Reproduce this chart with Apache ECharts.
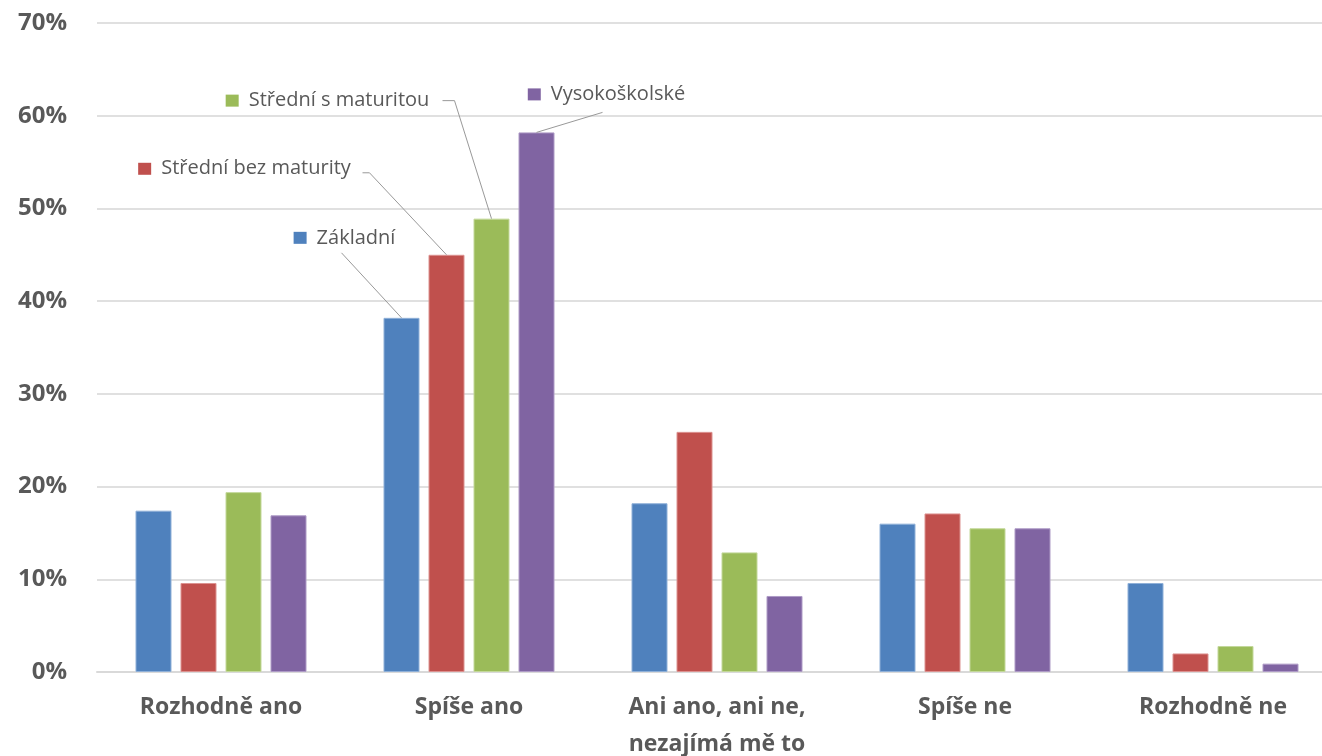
<!DOCTYPE html>
<html>
<head>
<meta charset="utf-8">
<style>
  html, body { margin: 0; padding: 0; background: #ffffff; }
  #chart { width: 1322px; height: 756px; }
</style>
<script src="https://cdn.jsdelivr.net/npm/echarts@6/dist/echarts.min.js"></script>
</head>
<body>
<div id="chart"></div>
<script>
// Answer categories
const categories = ['Rozhodně ano', 'Spíše ano', 'Ani ano, ani ne,\nnezajímá mě to', 'Spíše ne', 'Rozhodně ne'];

// Share of respondents (%) by education level
const zakladni = [17.4, 38.2, 18.2, 16.0, 9.6];
const stredniBezMaturity = [9.6, 45.0, 25.9, 17.1, 2.0];
const stredniSMaturitou = [19.4, 48.9, 12.9, 15.5, 2.8];
const vysokoskolske = [16.9, 58.2, 8.2, 15.5, 0.9];

const seriesNames = ['Základní', 'Střední bez maturity', 'Střední s maturitou', 'Vysokoškolské'];
const seriesValues = [zakladni, stredniBezMaturity, stredniSMaturitou, vysokoskolske];
const colors = ['#4f81bd', '#c0504d', '#9bbb59', '#8064a2'];
const borderColors = ['#8fb0d8', '#dc9290', '#c3d89a', '#ae9bc6'];

const yTicks = { min: 0, max: 70, interval: 10 };

// Bar geometry inside a category group
const BAR_WIDTH = 36;
const BAR_GAP = 9;

// Series name labels sit above the "Spíše ano" group
const labelCategoryIndex = 1;
// Label shift from its default "top" spot, and the leader line path
// (pixel offsets from the top centre of the bar)
const labelPlacement = [
  { dx: -57, dy: -65, guide: [[-60, -65]] },
  { dx: -202, dy: -71, guide: [[-77, -82], [-84, -82]] },
  { dx: -164, dy: -103, guide: [[-37, -118], [-49, -118]] },
  { dx: 70, dy: -23, guide: [[66, -20]] }
];

const chart = echarts.init(document.getElementById('chart'), null, { renderer: 'canvas' });

const barSeries = seriesNames.map((name, si) => ({
  name: name,
  type: 'bar',
  barWidth: BAR_WIDTH,
  barGap: (BAR_GAP / BAR_WIDTH * 100) + '%',
  z: 2,
  itemStyle: { color: colors[si], borderColor: borderColors[si], borderWidth: 1 },
  label: {
    show: false,
    position: 'top',
    distance: 5,
    formatter: '{sq|}{t|' + name + '}',
    rich: {
      sq: { width: 13, height: 12, backgroundColor: colors[si] },
      t: {
        fontFamily: 'Open Sans',
        fontSize: 20,
        color: '#595959',
        lineHeight: 20,
        padding: [0, 0, 0, 10]
      }
    }
  },
  labelLayout: { dx: labelPlacement[si].dx, dy: labelPlacement[si].dy },
  data: seriesValues[si].map((v, ci) => ci === labelCategoryIndex
    ? { value: v, label: { show: true } }
    : v)
}));

// Leader lines from each labelled bar top to its series name
const guideSeries = {
  type: 'custom',
  silent: true,
  z: 3,
  data: seriesValues.map((vals, si) => [labelCategoryIndex, vals[labelCategoryIndex], si]),
  renderItem: function (params, api) {
    const si = api.value(2);
    const top = api.coord([api.value(0), api.value(1)]);
    const shift = (si - (seriesNames.length - 1) / 2) * (BAR_WIDTH + BAR_GAP);
    const bx = top[0] + shift;
    const by = top[1];
    const pts = [[bx, by]].concat(labelPlacement[si].guide.map(g => [bx + g[0], by + g[1]]));
    return {
      type: 'polyline',
      shape: { points: pts },
      style: { stroke: '#999999', lineWidth: 1, fill: null }
    };
  }
};

chart.setOption({
  animation: false,
  backgroundColor: '#ffffff',
  grid: {
    left: 97, top: 23, width: 1240, bottom: 84,
    containLabel: false,
    outerBoundsMode: 'none'
  },
  xAxis: {
    type: 'category',
    data: categories,
    axisTick: { show: false },
    axisLine: { show: true, lineStyle: { color: '#d9d9d9', width: 2 } },
    axisLabel: {
      interval: 0,
      margin: 17,
      fontFamily: 'Open Sans',
      fontWeight: 'bold',
      fontSize: 23,
      lineHeight: 37,
      color: '#595959'
    }
  },
  yAxis: {
    type: 'value',
    min: yTicks.min,
    max: yTicks.max,
    interval: yTicks.interval,
    axisLine: { show: false },
    axisTick: { show: false },
    splitLine: { lineStyle: { color: '#e0e0e0', width: 2 } },
    axisLabel: {
      margin: 30,
      fontFamily: 'Open Sans',
      fontWeight: 'bold',
      fontSize: 24,
      color: '#595959',
      formatter: '{value}%'
    }
  },
  series: barSeries.concat([guideSeries])
});
</script>
</body>
</html>
